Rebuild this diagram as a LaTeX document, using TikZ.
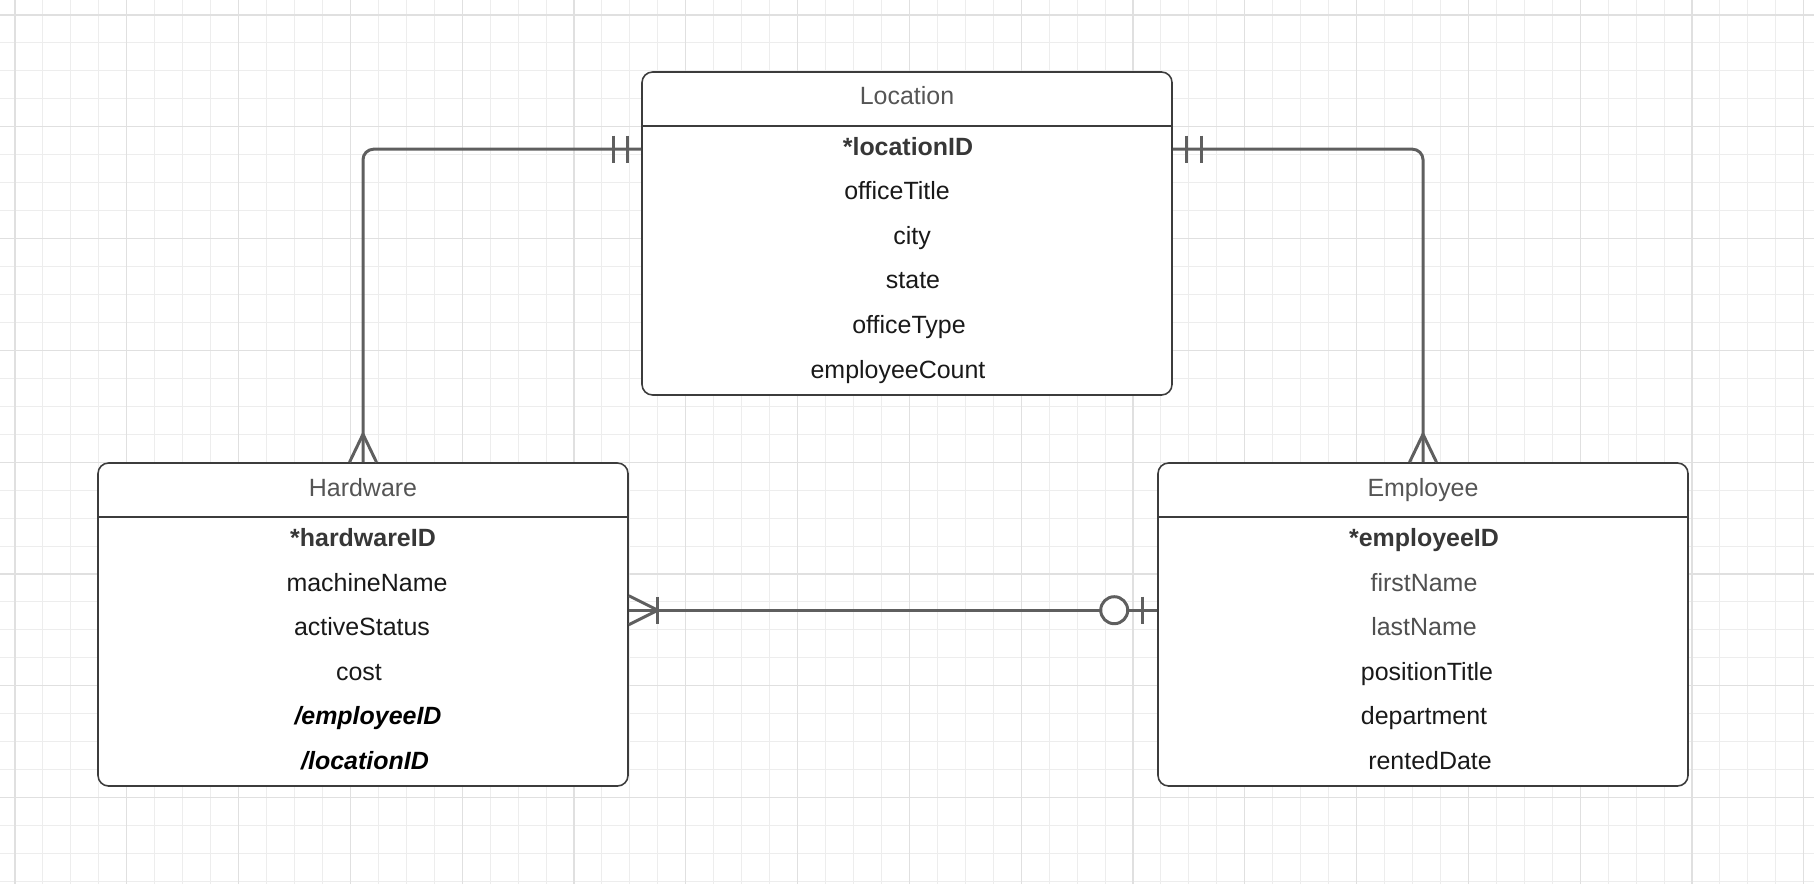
\documentclass[tikz,border=0pt]{standalone}
\usepackage{fontspec}
\setmainfont{Liberation Sans}
\usepackage{tikz}
\usetikzlibrary{positioning, calc}
\definecolor{gridminor}{RGB}{237,237,237}
\definecolor{gridmajor}{RGB}{224,224,224}
\definecolor{boxline}{RGB}{60,60,60}
\definecolor{connline}{RGB}{95,95,95}
\definecolor{titlegray}{RGB}{85,85,85}
\definecolor{keygray}{RGB}{55,55,55}
\definecolor{attrdark}{RGB}{25,25,25}
\definecolor{softgray}{RGB}{80,80,80}
\newcommand{\entfont}{\fontsize{7.1}{8.5}\selectfont}
\tikzset{
  entity/.style={rectangle, draw=boxline, fill=white, rounded corners=3pt,
    minimum width=5.3cm, minimum height=3.23cm, line width=0.45pt, inner sep=0pt},
  hdrrule/.style={draw=boxline, line width=0.45pt},
  title/.style={font=\entfont, text=titlegray, inner sep=0pt,
    text height=0.18cm, text depth=0.05cm, yshift=-0.025cm},
  attr/.style={font=\entfont, text=attrdark, inner sep=0pt,
    text height=0.18cm, text depth=0.05cm, yshift=-0.025cm},
  keyattr/.style={attr, font=\entfont\bfseries, text=keygray},
  fkattr/.style={attr, font=\entfont\bfseries\itshape, text=black},
  softattr/.style={attr, text=softgray},
  conn/.style={draw=connline, line width=0.85pt},
  minorline/.style={draw=gridminor, line width=0.3pt},
  majorline/.style={draw=gridmajor, line width=0.35pt}
}

\begin{document}
\begin{tikzpicture}
  \useasboundingbox (0,0) rectangle (18.14,-8.84);
  \clip (0,0) rectangle (18.14,-8.84);

  % background grid
  \foreach \i in {0,...,64} {
    \draw[minorline] (0.15+\i*0.2795,0) -- (0.15+\i*0.2795,-8.84);
  }
  \foreach \i in {0,...,31} {
    \draw[minorline] (0,-0.15-\i*0.2795) -- (18.14,-0.15-\i*0.2795);
  }
  \foreach \i in {0,...,16} {
    \draw[majorline] (0.15+\i*1.118,0) -- (0.15+\i*1.118,-8.84);
  }
  \foreach \i in {0,...,7} {
    \draw[majorline] (0,-0.15-\i*1.118) -- (18.14,-0.15-\i*1.118);
  }

  % Location
  \node[entity] (loc) at (9.07,-2.335) {};
  \draw[hdrrule] ([yshift=-0.55cm]loc.north west) -- ([yshift=-0.55cm]loc.north east);
  \node[title] (loctitle) at (9.07,-0.96) {Location};
  \node[keyattr] (locid) at (9.08,-1.47) {*locationID};
  \node[attr] (offtitle) at (8.97,-1.91) {officeTitle};
  \node[attr] (city) at (9.12,-2.36) {city};
  \node[attr] (state) at (9.13,-2.80) {state};
  \node[attr] (offtype) at (9.09,-3.25) {officeType};
  \node[attr] (empcount) at (8.98,-3.70) {employeeCount};

  % Hardware
  \node[entity] (hw) at (3.63,-6.245) {};
  \draw[hdrrule] ([yshift=-0.55cm]hw.north west) -- ([yshift=-0.55cm]hw.north east);
  \node[title] (hwtitle) at (3.63,-4.87) {Hardware};
  \node[keyattr] (hwid) at (3.63,-5.37) {*hardwareID};
  \node[attr] (machname) at (3.67,-5.82) {machineName};
  \node[attr] (active) at (3.62,-6.26) {activeStatus};
  \node[attr] (cost) at (3.59,-6.71) {cost};
  \node[fkattr] (hwemp) at (3.68,-7.15) {/employeeID};
  \node[fkattr] (hwloc) at (3.65,-7.60) {/locationID};

  % Employee
  \node[entity] (emp) at (14.23,-6.245) {};
  \draw[hdrrule] ([yshift=-0.55cm]emp.north west) -- ([yshift=-0.55cm]emp.north east);
  \node[title] (emptitle) at (14.23,-4.87) {Employee};
  \node[keyattr] (empid) at (14.24,-5.37) {*employeeID};
  \node[softattr] (fname) at (14.24,-5.82) {firstName};
  \node[softattr] (lname) at (14.24,-6.26) {lastName};
  \node[attr] (postitle) at (14.27,-6.71) {positionTitle};
  \node[attr] (dept) at (14.24,-7.15) {department};
  \node[attr] (rented) at (14.30,-7.60) {rentedDate};

  % Location -- Hardware (one and only one / many)
  \coordinate (locL) at ([yshift=-0.78cm]loc.north west);
  \draw[conn, rounded corners=3pt] (locL) -| (hw.north);
  \draw[conn] ([shift={(-0.14,0.135)}]locL) -- ++(0,-0.27);
  \draw[conn] ([shift={(-0.28,0.135)}]locL) -- ++(0,-0.27);
  \draw[conn] ([xshift=-0.135cm]hw.north) -- ([yshift=0.28cm]hw.north) -- ([xshift=0.135cm]hw.north);

  % Location -- Employee (one and only one / many)
  \coordinate (locR) at ([yshift=-0.78cm]loc.north east);
  \draw[conn, rounded corners=3pt] (locR) -| (emp.north);
  \draw[conn] ([shift={(0.14,0.135)}]locR) -- ++(0,-0.27);
  \draw[conn] ([shift={(0.29,0.135)}]locR) -- ++(0,-0.27);
  \draw[conn] ([xshift=-0.135cm]emp.north) -- ([yshift=0.28cm]emp.north) -- ([xshift=0.135cm]emp.north);

  % Hardware -- Employee (one or many / zero or one)
  \coordinate (hwR) at ([yshift=-1.48cm]hw.north east);
  \coordinate (empL) at ([yshift=-1.48cm]emp.north west);
  \draw[conn] (hwR) -- (empL);
  \draw[conn] ([yshift=0.145cm]hwR) -- ([xshift=0.29cm]hwR) -- ([yshift=-0.145cm]hwR);
  \draw[conn] ([shift={(0.29,0.135)}]hwR) -- ++(0,-0.27);
  \draw[conn, fill=white] ([xshift=-0.43cm]empL) circle (0.135);
  \draw[conn] ([shift={(-0.15,0.135)}]empL) -- ++(0,-0.27);
\end{tikzpicture}
\end{document}
